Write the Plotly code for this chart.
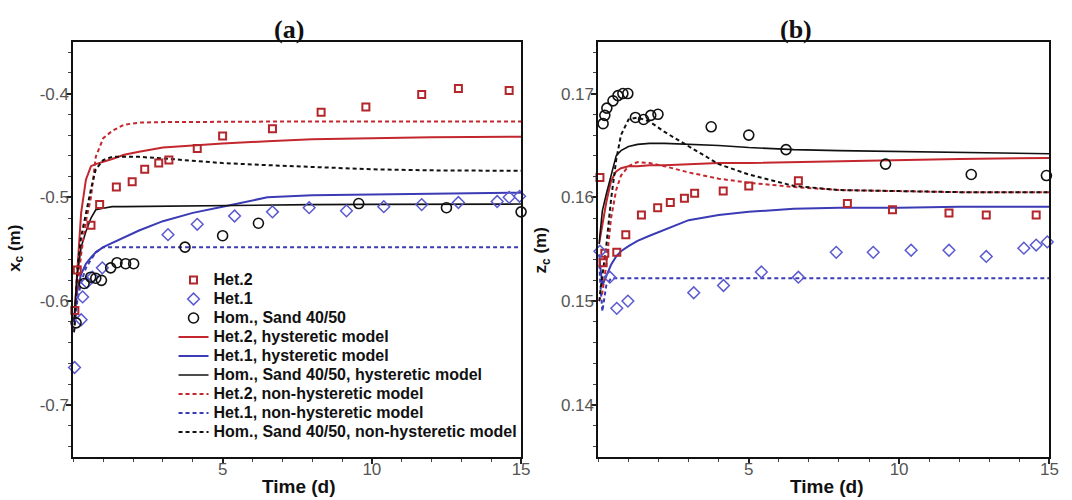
import plotly.graph_objects as go

# ---------------- data: panel (a) x_c ----------------
t_het2_obs_a = [0.05, 0.13, 0.59, 0.88, 1.44, 1.97, 2.39, 2.86, 3.2, 4.15, 5.0, 6.67, 8.3, 9.8, 11.67, 12.9, 14.6]
x_het2_obs = [-0.609, -0.57, -0.527, -0.507, -0.49, -0.485, -0.473, -0.467, -0.464, -0.453, -0.441, -0.434,
              -0.418, -0.413, -0.401, -0.395, -0.397]
t_het1_obs_a = [0.04, 0.26, 0.31, 0.45, 0.64, 0.97, 3.17, 4.15, 5.4, 6.67, 7.9, 9.15, 10.4, 11.67, 12.9, 14.2, 14.6, 14.95]
x_het1_obs = [-0.664, -0.618, -0.596, -0.582, -0.577, -0.568, -0.536, -0.526, -0.518, -0.514, -0.510, -0.513,
              -0.509, -0.507, -0.505, -0.504, -0.500, -0.499]
t_hom_obs_a = [0.09, 0.36, 0.58, 0.75, 0.94, 1.25, 1.46, 1.75, 2.02, 3.74, 5.0, 6.2, 9.56, 12.5, 15.0]
x_hom_obs = [-0.621, -0.583, -0.577, -0.578, -0.580, -0.568, -0.563, -0.564, -0.564, -0.548, -0.537, -0.525,
             -0.506, -0.510, -0.514]

t_model = [0.02, 0.13, 0.26, 0.42, 0.59, 0.75, 1.0, 1.3, 1.7, 2.2, 3.0, 4.0, 5.0, 6.5, 8.0, 10.0, 12.0, 15.0]
x_het2_hyst = [-0.62, -0.57, -0.515, -0.483, -0.47, -0.468, -0.466, -0.463, -0.459, -0.456, -0.452, -0.450,
               -0.448, -0.446, -0.444, -0.443, -0.442, -0.4415]
x_het1_hyst = [-0.62, -0.59, -0.574, -0.564, -0.558, -0.553, -0.548, -0.544, -0.538, -0.532, -0.523, -0.515,
               -0.509, -0.500, -0.498, -0.497, -0.4965, -0.4955]
x_hom_hyst = [-0.62, -0.575, -0.548, -0.533, -0.52, -0.512, -0.5105, -0.509, -0.509, -0.5088, -0.5085, -0.508,
              -0.5078, -0.5075, -0.507, -0.5068, -0.5066, -0.5065]
x_het2_non = [-0.63, -0.59, -0.555, -0.523, -0.50, -0.461, -0.443, -0.436, -0.430, -0.428, -0.4275, -0.4272,
              -0.427, -0.427, -0.427, -0.427, -0.427, -0.427]
x_het1_non = [-0.63, -0.60, -0.582, -0.568, -0.56, -0.553, -0.548, -0.548, -0.548, -0.548, -0.548, -0.548,
              -0.548, -0.548, -0.548, -0.548, -0.548, -0.548]
x_hom_non = [-0.63, -0.57, -0.538, -0.514, -0.492, -0.473, -0.464, -0.461, -0.461, -0.461, -0.4625, -0.465,
             -0.467, -0.469, -0.471, -0.473, -0.474, -0.4745]

# ---------------- data: panel (b) z_c ----------------
t_het2_obs_b = [0.05, 0.155, 0.213, 0.61, 0.91, 1.43, 1.97, 2.39, 2.86, 3.2, 4.15, 5.0, 6.65, 8.28, 9.78, 11.66, 12.9, 14.56]
z_het2_obs = [0.1619, 0.1537, 0.1546, 0.1547, 0.1564, 0.1583, 0.1590, 0.1595, 0.1599, 0.1604, 0.1606, 0.1611,
              0.1616, 0.1594, 0.1588, 0.1585, 0.1583, 0.1583]
t_het1_obs_b = [0.05, 0.38, 0.61, 0.98, 3.17, 4.16, 5.42, 6.65, 7.91, 9.14, 10.4, 11.66, 12.9, 14.15, 14.56, 14.93]
z_het1_obs = [0.1548, 0.1523, 0.1493, 0.1500, 0.1508, 0.1515, 0.1528, 0.1523, 0.1547, 0.1547, 0.1549, 0.1549,
              0.1543, 0.1551, 0.1554, 0.1557]
t_hom_obs_b = [0.155, 0.213, 0.28, 0.484, 0.649, 0.813, 0.978, 1.23, 1.5, 1.74, 1.98, 3.75, 5.0, 6.24, 9.55, 12.4, 14.9]
z_hom_obs = [0.1671, 0.1679, 0.1686, 0.1693, 0.1698, 0.1700, 0.1700, 0.1677, 0.1675, 0.1679, 0.1680, 0.1668,
             0.1660, 0.1646, 0.1632, 0.1622, 0.1621]

z_het2_hyst = [0.1555, 0.1573, 0.1595, 0.1616, 0.1625, 0.1628, 0.1630, 0.1630, 0.1631, 0.1631, 0.1632, 0.1633,
               0.1633, 0.1634, 0.1635, 0.1636, 0.1637, 0.1638]
z_het1_hyst = [0.1545, 0.1515, 0.1524, 0.1535, 0.1543, 0.1548, 0.1553, 0.1558, 0.1563, 0.1569, 0.1578, 0.1583,
               0.1586, 0.1589, 0.1590, 0.1590, 0.1591, 0.1591]
z_hom_hyst = [0.1555, 0.1587, 0.1603, 0.1620, 0.1640, 0.1645, 0.1649, 0.1651, 0.1652, 0.1652, 0.1651, 0.1650,
              0.1648, 0.1646, 0.1645, 0.1644, 0.1643, 0.1642]
z_het2_non = [0.1500, 0.1508, 0.1535, 0.1580, 0.1607, 0.1621, 0.1630, 0.1634, 0.1633, 0.1630, 0.1624, 0.1618,
              0.1614, 0.1610, 0.1607, 0.1606, 0.1605, 0.1605]
z_het1_non = [0.1535, 0.1490, 0.1515, 0.1522, 0.1522, 0.1522, 0.1522, 0.1522, 0.1522, 0.1522, 0.1522, 0.1522,
              0.1522, 0.1522, 0.1522, 0.1522, 0.1522, 0.1522]
z_hom_non = [0.1500, 0.1525, 0.1553, 0.1598, 0.1636, 0.1660, 0.1675, 0.1677, 0.1673, 0.1663, 0.1649, 0.1632,
             0.1622, 0.1611, 0.1607, 0.1606, 0.1605, 0.1605]

x_ticks = [5, 10, 15]
ya_ticks = [-0.7, -0.6, -0.5, -0.4]
yb_ticks = [0.14, 0.15, 0.16, 0.17]

names = ["Het.2", "Het.1", "Hom., Sand 40/50",
         "Het.2, hysteretic model", "Het.1, hysteretic model", "Hom., Sand 40/50, hysteretic model",
         "Het.2, non-hysteretic model", "Het.1, non-hysteretic model", "Hom., Sand 40/50, non-hysteretic model"]

RED = "#c4262e"
RED_M = "#b3262b"
BLUE = "#3b3bb5"
BLUE_M = "#5a5ad0"
BLACK = "#111111"
DASH = "4px,3px"

fig = go.Figure()


def lg(name):
    return '<span style="font-size:16px">' + name + '</span>'


def add_panel(xa, ya, t_obs, lines, showlegend):
    (t2, v2), (t1, v1), (th, vh) = t_obs
    styles = [
        (RED, 2, "solid"), (BLUE, 2, "solid"), (BLACK, 1.6, "solid"),
        (RED, 2, DASH), (BLUE, 2, DASH), (BLACK, 2, DASH),
    ]
    for i, (vals, (c, w, d)) in enumerate(zip(lines, styles)):
        fig.add_trace(go.Scatter(x=t_model, y=vals, mode="lines", name=lg(names[3 + i]),
                                 line=dict(color=c, width=w, dash=d),
                                 xaxis=xa, yaxis=ya, showlegend=showlegend, legendrank=4 + i))
    fig.add_trace(go.Scatter(x=t2, y=v2, mode="markers", name=lg(names[0]), cliponaxis=False,
                             marker=dict(symbol="square-open", size=7, color=RED_M, line=dict(width=2)),
                             xaxis=xa, yaxis=ya, showlegend=showlegend, legendrank=1))
    fig.add_trace(go.Scatter(x=t1, y=v1, mode="markers", name=lg(names[1]), cliponaxis=False,
                             marker=dict(symbol="diamond-open", size=9, color=BLUE_M, line=dict(width=1.5)),
                             xaxis=xa, yaxis=ya, showlegend=showlegend, legendrank=2))
    fig.add_trace(go.Scatter(x=th, y=vh, mode="markers", name=lg(names[2]), cliponaxis=False,
                             marker=dict(symbol="circle-open", size=10, color=BLACK, line=dict(width=1.6)),
                             xaxis=xa, yaxis=ya, showlegend=showlegend, legendrank=3))


add_panel("x", "y",
          [(t_het2_obs_a, x_het2_obs), (t_het1_obs_a, x_het1_obs), (t_hom_obs_a, x_hom_obs)],
          [x_het2_hyst, x_het1_hyst, x_hom_hyst, x_het2_non, x_het1_non, x_hom_non], True)
add_panel("x2", "y2",
          [(t_het2_obs_b, z_het2_obs), (t_het1_obs_b, z_het1_obs), (t_hom_obs_b, z_hom_obs)],
          [z_het2_hyst, z_het1_hyst, z_hom_hyst, z_het2_non, z_het1_non, z_hom_non], False)

W, H = 1072, 500


def px(x):
    return x / W


def py(y):
    return 1 - y / H


FONT = "Arial, Liberation Sans, sans-serif"
tickfont = dict(family=FONT, size=17, color="#555555")
TOP, BOT = 41.7, 456.7


def xaxis(x0, x1, anchor):
    return dict(domain=[px(x0), px(x1)], anchor=anchor, range=[0, 15], tickvals=x_ticks,
                ticktext=[str(v) for v in x_ticks],
                ticks="outside", ticklen=5, tickwidth=1.5, tickcolor="#222", ticklabelstandoff=-9,
                minor=dict(dtick=1, ticks="outside", ticklen=3, tickcolor="#444", tickwidth=1),
                showline=True, linecolor="#111", linewidth=2, mirror=True,
                showgrid=False, zeroline=False, tickfont=tickfont)


def yaxis(rng, tv, fmt, minor_dt, anchor):
    return dict(domain=[py(BOT), py(TOP)], anchor=anchor, range=rng, tickvals=tv,
                ticktext=[fmt.format(v) for v in tv],
                ticks="outside", ticklen=5, tickwidth=1.5, tickcolor="#222", ticklabelstandoff=-6,
                minor=dict(dtick=minor_dt, tick0=0, ticks="outside", ticklen=3, tickcolor="#444", tickwidth=1),
                showline=True, linecolor="#111", linewidth=2, mirror=True,
                showgrid=False, zeroline=False, tickfont=tickfont)


def inner_ticks(base, anchor, rng, tv, minor_dt):
    # inside half of the crossing tick marks
    return dict(overlaying=base, anchor=anchor, range=rng, tickvals=tv, showticklabels=False,
                ticks="inside", ticklen=5, tickwidth=1.5, tickcolor="#222",
                minor=dict(dtick=minor_dt, tick0=0, ticks="inside", ticklen=3, tickcolor="#444", tickwidth=1),
                showline=False, showgrid=False, zeroline=False)


def ann(text, x, y, size, family=FONT, angle=0):
    return dict(text=text, x=px(x), y=py(y), xref="paper", yref="paper", showarrow=False,
                xanchor="center", yanchor="middle", textangle=angle,
                font=dict(family=family, size=size, color="#111", weight="bold"))


SERIF = "Times New Roman, Liberation Serif, serif"
fig.update_layout(
    width=W, height=H,
    margin=dict(l=0, r=0, t=0, b=0),
    paper_bgcolor="white", plot_bgcolor="white",
    xaxis=xaxis(74, 525.5, "y"),
    yaxis=yaxis([-0.75, -0.35], ya_ticks, "{:.1f}", 0.02, "x"),
    xaxis2=xaxis(603.5, 1058.3, "y2"),
    yaxis2=yaxis([0.135, 0.175], yb_ticks, "{:.2f}", 0.002, "x2"),
    xaxis3=inner_ticks("x", "y", [0, 15], x_ticks, 1),
    yaxis3=inner_ticks("y", "x", [-0.75, -0.35], ya_ticks, 0.02),
    xaxis4=inner_ticks("x2", "y2", [0, 15], x_ticks, 1),
    yaxis4=inner_ticks("y2", "x2", [0.135, 0.175], yb_ticks, 0.002),
    legend=dict(x=px(175), y=py(356), xanchor="left", yanchor="middle",
                bgcolor="rgba(0,0,0,0)", borderwidth=0,
                font=dict(family=FONT, size=12, color="#111", weight="bold"),
                tracegroupgap=0, itemwidth=30),
    showlegend=True,
    annotations=[
        ann("(a)", 291, 29.5, 26, SERIF),
        ann("(b)", 803, 29.5, 26, SERIF),
        ann("Time (d)", 302, 486, 19),
        ann("Time (d)", 834, 486, 19),
        ann("x<sub>c</sub> (m)", 16, 248, 17, angle=-90),
        ann("z<sub>c</sub> (m)", 547, 250, 17, angle=-90),
    ],
)

fig.write_html("out.html", config={"displayModeBar": False},
               post_script="document.body.style.margin='0px';")
